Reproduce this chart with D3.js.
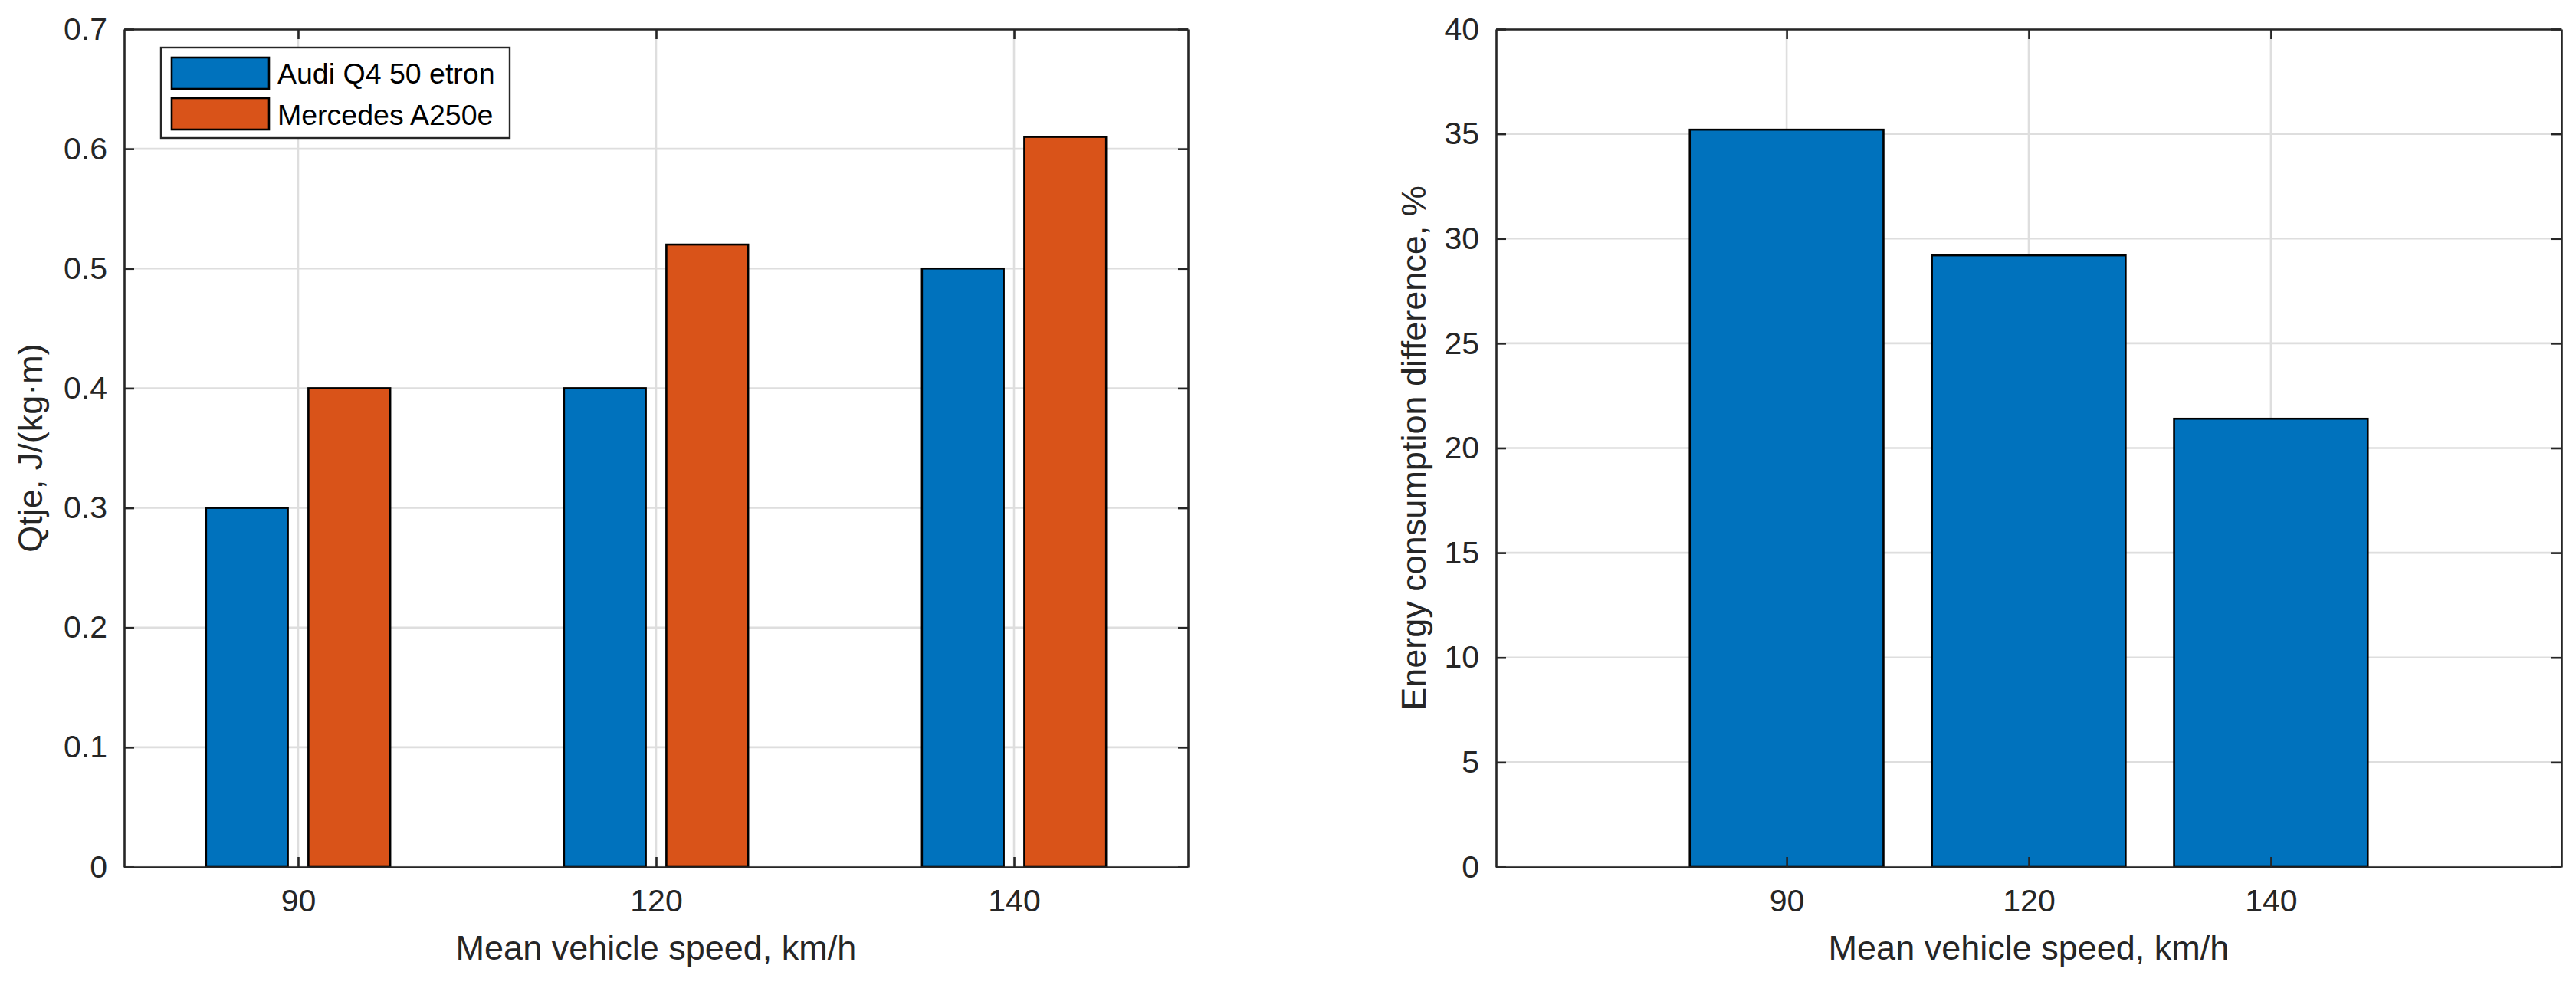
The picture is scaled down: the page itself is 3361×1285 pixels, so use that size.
<!DOCTYPE html>
<html>
<head>
<meta charset="utf-8">
<script src="https://cdn.jsdelivr.net/npm/d3@7"></script>
<style>
body { margin: 0; background: #fff; }
text { font-family: "Liberation Sans", Arial, sans-serif; }
</style>
</head>
<body>
<svg id="chart" width="3361" height="1285"></svg>
<script>
// data
var speeds = ["90", "120", "140"];
var seriesNames = ["Audi Q4 50 etron", "Mercedes A250e"];
var audiQ = [0.3, 0.4, 0.5];
var mercQ = [0.4, 0.52, 0.61];
var energyDiff = [35.2, 29.2, 21.4];
var leftTicks = [0, 0.1, 0.2, 0.3, 0.4, 0.5, 0.6, 0.7];
var rightTicks = [0, 5, 10, 15, 20, 25, 30, 35, 40];
var barColors = ["#0072BD", "#D95319"];

var svg = d3.select("#chart");
var top0 = 38, bottom0 = 1131;
var tickFont = 41, labelFont = 45;
var axisColor = "#262626";
var lw = 2.6;

// grouped-bar geometry (MATLAB style)
var groupOffset = 0.143;
var groupBarW = 0.2286;

var drawPanel = function(x, y, yTicks, yFmt){
    var g = svg.append("g");
    var xr = x.range();

    // grid
    g.append("g").selectAll("line").data(yTicks).enter().append("line")
        .attr("x1", xr[0]).attr("x2", xr[1])
        .attr("y1", function(d){return y(d)}).attr("y2", function(d){return y(d)})
        .attr("stroke", "#dedede").attr("stroke-width", lw);
    g.append("g").selectAll("line").data(speeds).enter().append("line")
        .attr("x1", function(d, i){return x(i + 1)}).attr("x2", function(d, i){return x(i + 1)})
        .attr("y1", top0).attr("y2", bottom0)
        .attr("stroke", "#dedede").attr("stroke-width", lw);
    return g;
}

var drawAxes = function(g, x, y, yTicks, yFmt){
    var xr = x.range();
    var idx = speeds.map(function(d, i){return i + 1});

    var bottom = g.append("g").attr("transform", "translate(0," + bottom0 + ")")
        .call(d3.axisBottom(x).tickValues(idx).tickFormat(function(d){return speeds[d - 1]})
            .tickSizeInner(-13).tickSizeOuter(0).tickPadding(29));
    var topAx = g.append("g").attr("transform", "translate(0," + top0 + ")")
        .call(d3.axisTop(x).tickValues(idx).tickFormat("").tickSizeInner(-13).tickSizeOuter(0));
    var left = g.append("g").attr("transform", "translate(" + xr[0] + ",0)")
        .call(d3.axisLeft(y).tickValues(yTicks).tickFormat(yFmt)
            .tickSizeInner(-13).tickSizeOuter(0).tickPadding(22));
    var right = g.append("g").attr("transform", "translate(" + xr[1] + ",0)")
        .call(d3.axisRight(y).tickValues(yTicks).tickFormat("").tickSizeInner(-13).tickSizeOuter(0));

    [bottom, topAx, left, right].forEach(function(a){
        a.select(".domain").attr("stroke", axisColor).attr("stroke-width", lw);
        a.selectAll(".tick line").attr("stroke", axisColor).attr("stroke-width", lw);
        a.selectAll(".tick text").attr("fill", axisColor).style("font-size", tickFont + "px")
            .style("font-family", "'Liberation Sans', Arial, sans-serif");
    });

    g.append("text")
        .attr("x", (xr[0] + xr[1]) / 2).attr("y", 1252)
        .attr("text-anchor", "middle").attr("fill", axisColor)
        .style("font-size", labelFont + "px")
        .text("Mean vehicle speed, km/h");
}

// ---- left panel ----
var xL = d3.scaleLinear().domain([0.514, 3.486]).range([162, 1550]);
var yL = d3.scaleLinear().domain([0, 0.7]).range([bottom0, top0]);
var gL = drawPanel(xL, yL, leftTicks);

[audiQ, mercQ].forEach(function(vals, s){
    var off = s == 0 ? -groupOffset : groupOffset;
    gL.append("g").selectAll("rect").data(vals).enter().append("rect")
        .attr("x", function(d, i){return xL(i + 1 + off - groupBarW / 2)})
        .attr("width", function(d, i){return xL(i + 1 + off + groupBarW / 2) - xL(i + 1 + off - groupBarW / 2)})
        .attr("y", function(d){return yL(d)})
        .attr("height", function(d){return yL(0) - yL(d)})
        .attr("fill", barColors[s]).attr("stroke", "#000").attr("stroke-width", lw);
});

drawAxes(gL, xL, yL, leftTicks, function(d){return d3.format("")(+d.toFixed(1))});

gL.append("text")
    .attr("transform", "translate(55," + (top0 + bottom0) / 2 + ") rotate(-90)")
    .attr("text-anchor", "middle").attr("fill", axisColor)
    .style("font-size", labelFont + "px")
    .text("Qtje, J/(kg\u00b7m)");

// legend
var leg = gL.append("g");
leg.append("rect").attr("x", 210).attr("y", 62).attr("width", 455).attr("height", 118)
    .attr("fill", "#fff").attr("stroke", axisColor).attr("stroke-width", 2.4);
seriesNames.forEach(function(name, s){
    leg.append("rect").attr("x", 224).attr("y", 75 + s * 53).attr("width", 127).attr("height", 41)
        .attr("fill", barColors[s]).attr("stroke", "#000").attr("stroke-width", lw);
    leg.append("text").attr("x", 362).attr("y", 109 + s * 53.5)
        .attr("fill", "#000").style("font-size", "37.5px").text(name);
});

// ---- right panel ----
var xR = d3.scaleLinear().domain([-0.2, 4.2]).range([1952, 3342]);
var yR = d3.scaleLinear().domain([0, 40]).range([bottom0, top0]);
var gR = drawPanel(xR, yR, rightTicks);

gR.append("g").selectAll("rect").data(energyDiff).enter().append("rect")
    .attr("x", function(d, i){return xR(i + 1 - 0.4)})
    .attr("width", function(d, i){return xR(i + 1.4) - xR(i + 0.6)})
    .attr("y", function(d){return yR(d)})
    .attr("height", function(d){return yR(0) - yR(d)})
    .attr("fill", barColors[0]).attr("stroke", "#000").attr("stroke-width", lw);

drawAxes(gR, xR, yR, rightTicks, d3.format("d"));

gR.append("text")
    .attr("transform", "translate(1860," + (top0 + bottom0) / 2 + ") rotate(-90)")
    .attr("text-anchor", "middle").attr("fill", axisColor)
    .style("font-size", labelFont + "px")
    .text("Energy consumption difference, %");
</script>
</body>
</html>
